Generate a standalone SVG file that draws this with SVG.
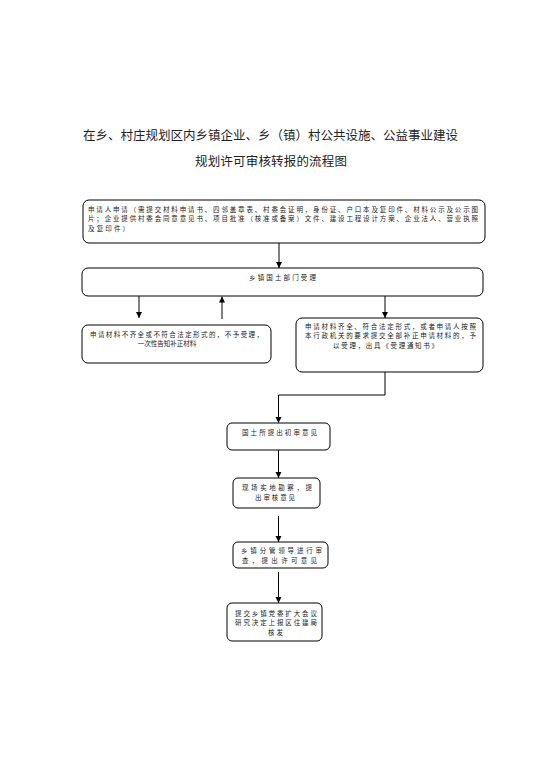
<svg xmlns="http://www.w3.org/2000/svg" width="542" height="768" viewBox="0 0 542 768">
<style>
  .box { fill: #ffffff; stroke: #000000; stroke-width: 1; }
  .t { font-family: "Noto Sans CJK SC", sans-serif; font-size: 6.5px; fill: #222222; }
  .c { text-anchor: middle; }
  .title { font-family: "Noto Sans CJK SC", sans-serif; font-size: 12.5px; fill: #222222; }
  .conn { fill: none; stroke: #000000; stroke-width: 1; marker-end: url(#arr); }
</style>
<defs>
  <marker id="arr" markerUnits="userSpaceOnUse" markerWidth="6" markerHeight="7" refX="6" refY="3" orient="auto">
    <path d="M0,0 L6,3 L0,6 z" fill="#000000"/>
  </marker>
</defs>
<rect width="542" height="768" fill="#ffffff"/>
<g id="title">
  <text class="title" x="83" y="139.5" textLength="375" lengthAdjust="spacing">在乡、村庄规划区内乡镇企业、乡（镇）村公共设施、公益事业建设</text>
  <text class="title" x="195" y="166" textLength="152" lengthAdjust="spacing">规划许可审核转报的流程图</text>
</g>
<g id="connectors">
  <path class="conn" d="M279,243 L279,268"/>
  <path class="conn" d="M139,296 L139,318"/>
  <path class="conn" d="M222,319 L222,296.5"/>
  <path class="conn" d="M385,296 L385,318"/>
  <path class="conn" d="M385,372 L385,395 L278.5,395 L278.5,423"/>
  <path class="conn" d="M278.5,450 L278.5,478"/>
  <path class="conn" d="M278.5,516 L278.5,542"/>
  <path class="conn" d="M278.5,572 L278.5,603"/>
</g>
<g id="apply">
  <rect class="box" x="83" y="200" width="402" height="43" rx="6"/>
  <text class="t" x="88" y="211.5" textLength="390" lengthAdjust="spacing">申请人申请（需提交材料申请书、四邻盖章表、村委会证明，身份证、户口本及复印件、材料公示及公示图</text>
  <text class="t" x="88" y="221" textLength="390" lengthAdjust="spacing">片；企业提供村委会同意意见书、项目批准（核准或备案）文件、建设工程设计方案、企业法人、营业执照</text>
  <text class="t" x="88" y="230.5" textLength="41" lengthAdjust="spacing">及复印件）</text>
</g>
<g id="accept">
  <rect class="box" x="82" y="268" width="401" height="28" rx="6"/>
  <text class="t" x="249" y="279.5" textLength="67" lengthAdjust="spacing">乡镇国土部门受理</text>
</g>
<g id="reject">
  <rect class="box" x="82" y="325" width="189" height="38" rx="6"/>
  <text class="t" x="90" y="336.5" textLength="173" lengthAdjust="spacing">申请材料不齐全或不符合法定形式的，不予受理，</text>
  <text class="t c" x="167" y="346">一次性告知补正材料</text>
</g>
<g id="accepted">
  <rect class="box" x="296" y="318" width="187" height="54" rx="6"/>
  <text class="t" x="305" y="328.5" textLength="171" lengthAdjust="spacing">申请材料齐全、符合法定形式，或者申请人按照</text>
  <text class="t" x="305" y="338" textLength="171" lengthAdjust="spacing">本行政机关的要求提交全部补正申请材料的，予</text>
  <text class="t" x="333" y="347.5" textLength="105" lengthAdjust="spacing">以受理，出具《受理通知书》</text>
</g>
<g id="initial">
  <rect class="box" x="227" y="423" width="103" height="27" rx="5"/>
  <text class="t" x="242" y="434.5" textLength="75" lengthAdjust="spacing">国土所提出初审意见</text>
</g>
<g id="survey">
  <rect class="box" x="233" y="478" width="87" height="30" rx="5"/>
  <text class="t" x="242" y="490.3" textLength="70" lengthAdjust="spacing">现场实地勘察，提</text>
  <text class="t" x="255" y="499.8" textLength="40" lengthAdjust="spacing">出审核意见</text>
</g>
<g id="leader">
  <rect class="box" x="233" y="542" width="95" height="26" rx="5"/>
  <text class="t" x="241" y="553.2" textLength="81" lengthAdjust="spacing">乡镇分管领导进行审</text>
  <text class="t" x="242" y="562.7" textLength="75" lengthAdjust="spacing">查，提出许可意见</text>
</g>
<g id="submit">
  <rect class="box" x="227" y="603" width="95" height="38" rx="5"/>
  <text class="t" x="235" y="615.5" textLength="82" lengthAdjust="spacing">提交乡镇党委扩大会议</text>
  <text class="t" x="235" y="625" textLength="82" lengthAdjust="spacing">研究决定上报区住建局</text>
  <text class="t" x="268" y="634.5" textLength="15" lengthAdjust="spacing">核发</text>
</g>
</svg>
